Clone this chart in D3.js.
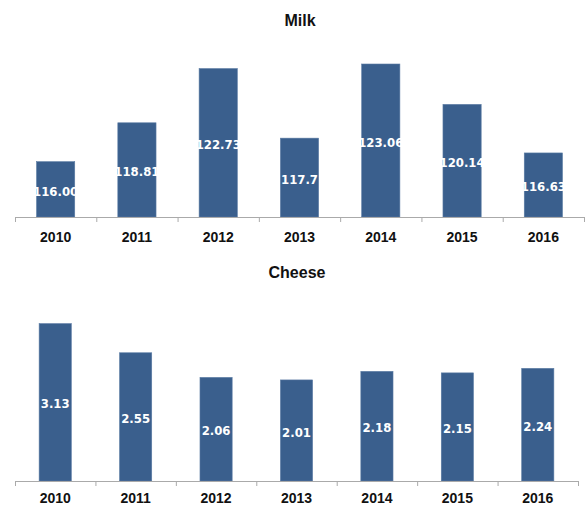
<!DOCTYPE html>
<html><head><meta charset="utf-8">
<script src="https://cdn.jsdelivr.net/npm/d3@7"></script>
<style>body{margin:0;background:#fff}svg{display:block}</style>
</head><body>
<svg id="chart" width="587" height="506"></svg>
<script>
const years = ["2010","2011","2012","2013","2014","2015","2016"];
const milkValues = [116.00, 118.81, 122.73, 117.7, 123.06, 120.14, 116.63];
const milkLabels = ["116.00","118.81","122.73","117.7","123.06","120.14","116.63"];
const cheeseValues = [3.13, 2.55, 2.06, 2.01, 2.18, 2.15, 2.24];
const cheeseLabels = ["3.13","2.55","2.06","2.01","2.18","2.15","2.24"];

const svg = d3.select("#chart");
const barColor = "#3a5f8d";
const VFONT = "'DejaVu Sans Condensed', 'DejaVu Sans', sans-serif";
const AFONT = "'Liberation Sans', Arial, sans-serif";

function panel(cfg){
  const g = svg.append("g");
  const x = d3.scaleBand().domain(years).range([cfg.x0, cfg.x1]).paddingInner(cfg.pad).paddingOuter(cfg.pad/2);
  const y = d3.scaleLinear().domain(cfg.domain).range([cfg.base, cfg.top]);
  g.append("text").attr("x", cfg.titleX).attr("y", cfg.titleY)
    .attr("text-anchor","middle").attr("font-family",AFONT).attr("font-weight","bold")
    .attr("font-size",16).attr("fill","#111").text(cfg.title);
  g.selectAll("rect.bar").data(cfg.values).join("rect").attr("class","bar")
    .attr("x",(d,i)=>x(years[i])).attr("width",x.bandwidth())
    .attr("y",d=>y(d)).attr("height",d=>cfg.base-y(d))
    .attr("fill",barColor).attr("stroke","#5a7ba3").attr("stroke-width",0.6);
  g.selectAll("text.val").data(cfg.values).join("text").attr("class","val")
    .attr("x",(d,i)=>x(years[i])+x.bandwidth()/2)
    .attr("y",d=>(y(d)+cfg.base)/2 + 1.5)
    .attr("dy","0.36em").attr("text-anchor","middle")
    .attr("font-family",VFONT).attr("font-size",13).attr("fill","#fff")
    .attr("font-weight","bold")
    .text((d,i)=>cfg.labels[i]);
  const xa = d3.scaleBand().domain(years).range([cfg.x0, cfg.x1]);
  const axis = g.append("g").attr("transform",`translate(0,${cfg.base})`)
    .call(d3.axisBottom(xa).tickSize(0).tickPadding(cfg.tickPad));
  axis.select(".domain").remove();
  axis.append("line").attr("x1",cfg.x0).attr("x2",cfg.x1).attr("y1",0.5).attr("y2",0.5).attr("stroke","#aaa");
  const edges = years.map(yv=>xa(yv)).concat([cfg.x1]);
  axis.selectAll("line.tk").data(edges).join("line").attr("class","tk")
    .attr("x1",d=>d+0.5).attr("x2",d=>d+0.5).attr("y1",0).attr("y2",5).attr("stroke","#aaa");
  axis.selectAll(".tick text").attr("font-family",AFONT).attr("font-weight","bold")
    .attr("font-size",14).attr("fill","#111");
}

panel({title:"Milk", titleX:300, titleY:26, x0:15, x1:584, pad:0.53, domain:[112,124], base:217, top:51,
       tickPad:15, values:milkValues, labels:milkLabels});
panel({title:"Cheese", titleX:297, titleY:278, x0:15, x1:578, pad:0.6, domain:[0,3.5], base:481, top:305,
       tickPad:12, values:cheeseValues, labels:cheeseLabels});
</script>
</body></html>
